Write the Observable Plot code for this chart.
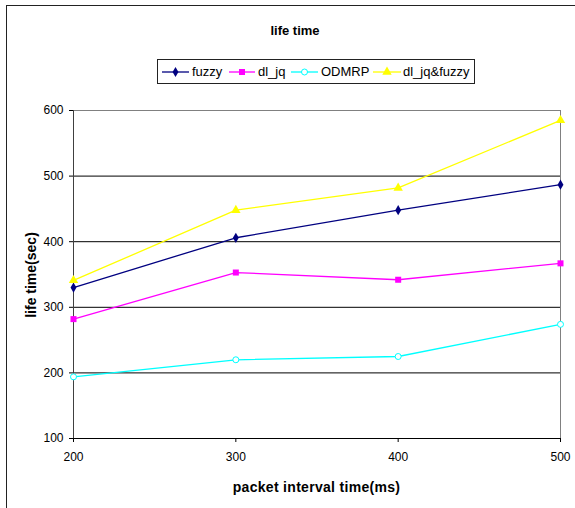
<!DOCTYPE html>
<html>
<head>
<meta charset="utf-8">
<script src="https://cdn.jsdelivr.net/npm/d3@7"></script>
<script src="https://cdn.jsdelivr.net/npm/@observablehq/plot@0.6"></script>
<style>
  body { margin: 0; background: #fff; overflow: hidden; font-family: "Liberation Sans", Arial, sans-serif; }
  #wrap { position: relative; width: 575px; height: 508px; overflow: hidden; background: #fff; }
  #border { position: absolute; left: 6px; top: 5px; width: 620px; height: 620px; border: 1px solid #222; box-sizing: border-box; }
  #chart { position: absolute; left: 0; top: 0; }
  #title { position: absolute; left: 0; width: 590px; top: 23px; text-align: center; font-weight: bold; font-size: 13px; }
  #legend { position: absolute; left: 157px; top: 59px; width: 318px; height: 25px; border: 1px solid #222; box-sizing: border-box; }
  .lg-item { position: absolute; top: 0; height: 23px; }
  .lg-item svg { position: absolute; top: 0; }
  .lg-item span { position: absolute; top: 4px; font-size: 13px; white-space: nowrap; }
  #xlabel { position: absolute; left: 0; width: 633px; top: 479px; text-align: center; font-weight: bold; font-size: 14px; letter-spacing: 0.3px; }
  #ylabel { position: absolute; left: 31px; top: 275px; transform: translate(-50%, -50%) rotate(-90deg); font-weight: bold; font-size: 14px; white-space: nowrap; }
</style>
</head>
<body>
<div id="wrap">
  <div id="border"></div>
  <div id="chart"></div>
  <div id="title"></div>
  <div id="legend"></div>
  <div id="xlabel"></div>
  <div id="ylabel"></div>
</div>
<script>
// ---- data ----
const titleText = "life time";
const xLabelText = "packet interval time(ms)";
const yLabelText = "life time(sec)";
const xValues = [200, 300, 400, 500];
const xTicks = [200, 300, 400, 500];
const yTicks = [100, 200, 300, 400, 500, 600];
const seriesNames = ["fuzzy", "dl_jq", "ODMRP", "dl_jq&fuzzy"];
const fuzzy = [330, 406, 448, 487];
const dl_jq = [282, 353, 342, 367];
const ODMRP = [194, 220, 225, 274];
const dl_jq_fuzzy = [341, 448, 482, 585];
const seriesColors = ["#000080", "#FF00FF", "#00FFFF", "#FFFF00"];
const seriesSymbols = ["diamond", "square", "circle", "triangle"];

// ---- build ----
const seriesValues = [fuzzy, dl_jq, ODMRP, dl_jq_fuzzy];
const series = seriesNames.map((name, k) => ({
  name,
  color: seriesColors[k],
  symbol: seriesSymbols[k],
  open: name === "ODMRP",
  rows: xValues.map((x, i) => ({ x, y: seriesValues[k][i], series: name }))
}));

const marks = [
  Plot.ruleY(yTicks.filter(v => v > 100 && v < 600), { stroke: "#000", strokeWidth: 1 }),
  Plot.ruleY([600], { stroke: "#808080" }),
  Plot.ruleX([500], { stroke: "#808080" }),
  Plot.ruleY([100], { stroke: "#000" }),
  Plot.ruleX([200], { stroke: "#404040" })
];
const dotR = { diamond: 3.1, square: 3.4, circle: 3, triangle: 3.5 };
for (const s of series) {
  marks.push(Plot.line(s.rows, { x: "x", y: "y", stroke: s.color, strokeWidth: 1.3 }));
}
for (const s of series) {
  marks.push(Plot.dot(s.rows, {
    x: "x", y: "y", symbol: () => s.symbol, r: dotR[s.symbol],
    fill: s.open ? "#fff" : s.color,
    stroke: s.color, strokeWidth: s.open ? 1 : 0
  }));
}

const chart = Plot.plot({
  width: 575,
  height: 508,
  marginLeft: 73,
  marginRight: 15,
  marginTop: 110,
  marginBottom: 70,
  style: { background: "transparent", fontFamily: "Liberation Sans, Arial, sans-serif", fontSize: "12px", color: "#000" },
  symbol: { type: "identity" },
  x: { domain: [200, 500], ticks: xTicks, tickSize: 4, tickPadding: 10, tickFormat: d => String(d), label: null },
  y: { domain: [100, 600], ticks: yTicks, tickSize: 4, tickPadding: 6, tickFormat: d => String(d), label: null },
  marks
});
document.getElementById("chart").appendChild(chart);

document.getElementById("title").textContent = titleText;
document.getElementById("xlabel").textContent = xLabelText;
document.getElementById("ylabel").textContent = yLabelText;

// legend
const legend = document.getElementById("legend");
const lgPos = [
  { line: [4, 31], text: 34 },
  { line: [71, 97], text: 100 },
  { line: [133, 160], text: 163 },
  { line: [215, 243], text: 245 }
];
const symbolMap = { diamond: d3.symbolDiamond, square: d3.symbolSquare, circle: d3.symbolCircle, triangle: d3.symbolTriangle };
series.forEach((s, k) => {
  const p = lgPos[k];
  const item = document.createElement("div");
  item.className = "lg-item";
  item.style.left = "0px";
  const svg = d3.create("svg").attr("width", 318).attr("height", 23).style("left", "0px");
  svg.append("line").attr("x1", p.line[0]).attr("x2", p.line[1]).attr("y1", 12).attr("y2", 12)
    .attr("stroke", s.color).attr("stroke-width", 1.3);
  const cx = (p.line[0] + p.line[1]) / 2;
  svg.append("path")
    .attr("d", d3.symbol(symbolMap[s.symbol], Math.PI * dotR[s.symbol] ** 2)())
    .attr("transform", `translate(${cx},12)`)
    .attr("fill", s.open ? "#fff" : s.color)
    .attr("stroke", s.color).attr("stroke-width", s.open ? 1 : 0);
  item.appendChild(svg.node());
  const span = document.createElement("span");
  span.textContent = s.name;
  span.style.left = p.text + "px";
  item.appendChild(span);
  legend.appendChild(item);
});
</script>
</body>
</html>
